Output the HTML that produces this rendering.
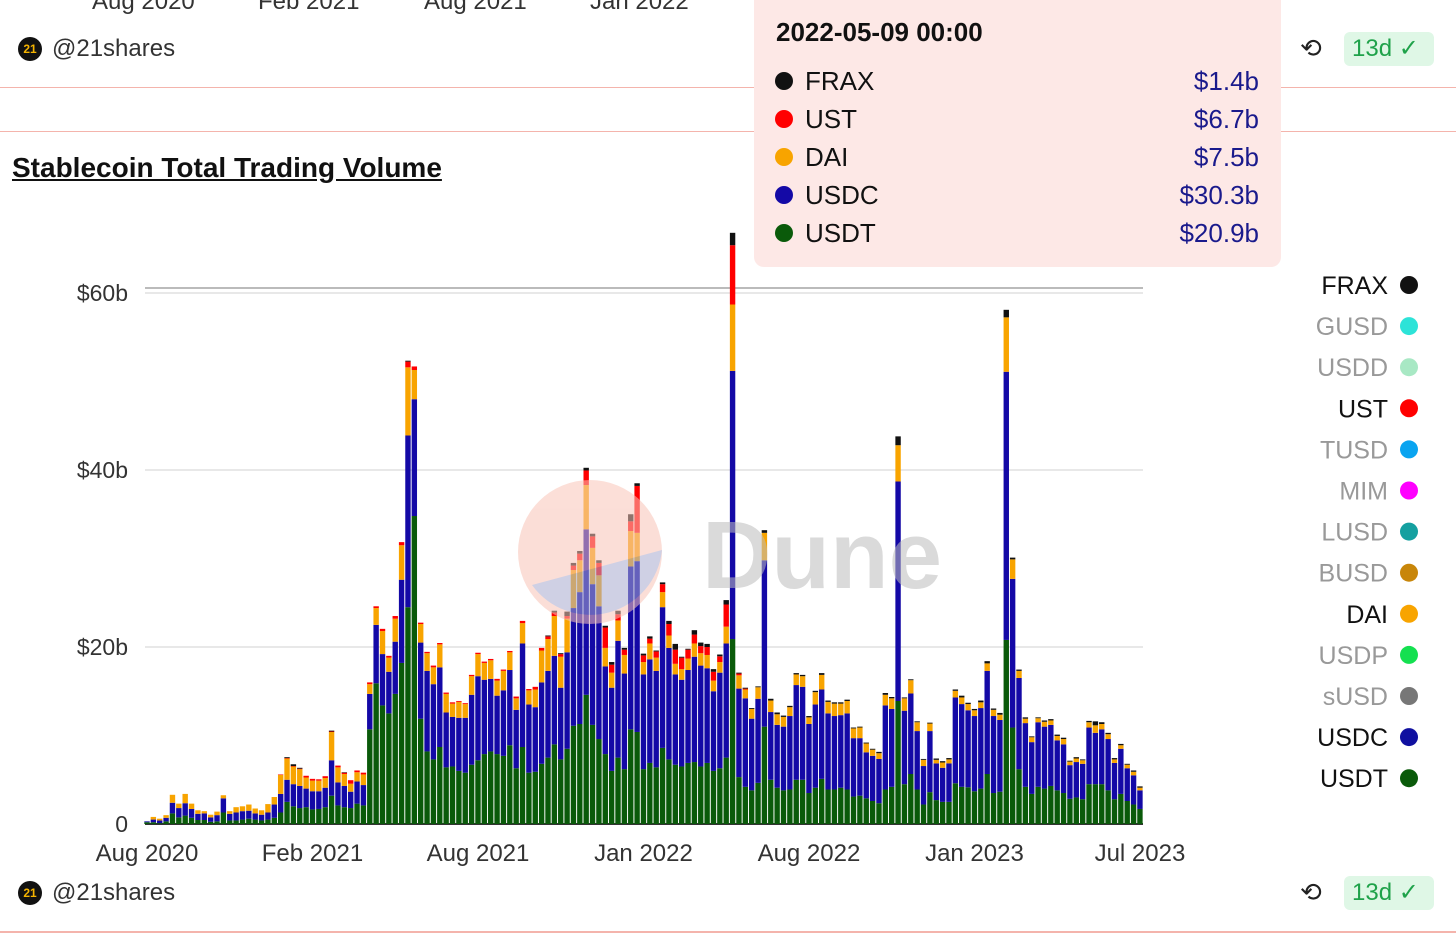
<!DOCTYPE html>
<html><head><meta charset="utf-8">
<style>
html,body{margin:0;padding:0;background:#fff;}
body{width:1456px;height:939px;position:relative;overflow:hidden;font-family:"Liberation Sans",sans-serif;}
.abs{position:absolute;}
.lbl{font-size:24px;color:#333;}
.badge{position:absolute;width:90px;height:34px;border-radius:6px;background:#dff7e6;color:#1fa24a;font-size:24px;line-height:34px;padding-left:8px;box-sizing:border-box;}
</style></head>
<body>
<div class="abs" style="left:754px;top:0;width:527px;height:267px;background:#fde8e6;border-radius:0 0 10px 10px;font-size:26px;color:#111;">
<div class="abs" style="left:22px;top:17px;font-weight:bold;">2022-05-09 00:00</div>
</div>
<div class="abs" style="left:0;top:87px;width:754px;height:1px;background:#f4b4ac;"></div>
<div class="abs" style="left:1281px;top:87px;width:175px;height:1px;background:#f4b4ac;"></div>
<div class="abs" style="left:0;top:131px;width:754px;height:1px;background:#f4b4ac;"></div>
<div class="abs" style="left:1281px;top:131px;width:175px;height:1px;background:#f4b4ac;"></div>

<svg id="chart" class="abs" style="left:0;top:0" width="1456" height="939"></svg>

<div class="abs lbl" style="left:0;top:-12px;width:740px;height:30px;">
<span class="abs" style="left:92px">Aug 2020</span><span class="abs" style="left:258px">Feb 2021</span><span class="abs" style="left:424px">Aug 2021</span><span class="abs" style="left:590px">Jan 2022</span></div>
<div class="abs" style="left:18px;top:37px;width:24px;height:24px;border-radius:12px;background:#111;color:#f5b400;font-size:12px;font-weight:bold;text-align:center;line-height:24px;">21</div>
<div class="abs lbl" style="left:52px;top:35px;">@21shares</div>
<div class="abs" style="left:1300px;top:33px;font-size:26px;color:#222;">⟲</div>
<div class="badge" style="left:1344px;top:32px;">13d ✓</div>
<div class="abs" style="left:12px;top:152px;font-size:28px;font-weight:bold;text-decoration:underline;color:#111;">Stablecoin Total Trading Volume</div>

<div class="abs" style="left:18px;top:881px;width:24px;height:24px;border-radius:12px;background:#111;color:#f5b400;font-size:12px;font-weight:bold;text-align:center;line-height:24px;">21</div>
<div class="abs lbl" style="left:52px;top:879px;">@21shares</div>
<div class="abs" style="left:1300px;top:877px;font-size:26px;color:#222;">⟲</div>
<div class="badge" style="left:1344px;top:876px;">13d ✓</div>
<div class="abs" style="left:0;top:931px;width:1456px;height:2px;background:#f4b4ac;"></div>

<script>
const usdt=[.2,.2,.1,.3,1.2,.75,.95,.7,.45,.45,.25,.3,1.3,.4,.4,.5,.6,.5,.4,.5,.7,1.3,2.5,2.0,1.8,1.9,1.65,1.7,1.9,3.2,2.1,1.9,1.8,2.3,2.1,10.7,15.9,13.4,12.5,14.7,
18.2,24.5,34.8,11.9,8.2,7.3,8.7,6.4,6.5,6.0,5.8,6.7,7.2,7.9,8.2,7.9,7.7,8.9,6.3,8.7,5.8,5.9,6.8,7.5,9.0,7.3,8.5,11.1,11.3,14.6,11.2,9.6,7.9,6.0,7.5,6.2,10.7,10.4,6.2,6.9,
6.4,8.6,7.3,6.7,6.5,6.9,7.0,6.5,6.9,6.0,6.3,7.5,20.9,5.3,4.2,3.8,4.65,11.0,5.0,4.1,3.8,3.9,5.0,5.0,3.5,4.1,5.1,3.9,3.9,4.1,3.9,3.1,3.2,2.9,2.6,2.35,3.9,4.2,13.9,4.5,
5.65,3.9,2.2,3.6,2.7,2.5,2.5,4.6,4.2,4.15,3.7,4.0,5.65,3.5,3.65,20.8,10.9,6.2,4.2,3.4,4.2,4.0,4.3,3.8,3.5,2.85,3.0,2.8,4.5,4.5,4.5,3.8,2.8,3.4,2.6,2.2,1.7];
const usdc=[.1,.3,.3,.4,1.2,1.05,1.4,1.0,.7,.75,.5,.7,1.6,.75,.9,.95,.9,.7,.65,.8,1.5,2.1,2.5,2.5,2.5,2.1,2.05,2.0,2.2,4.0,2.6,2.4,1.85,2.5,2.3,4.0,6.6,5.8,4.7,5.9,
9.4,19.4,13.2,8.6,9.1,8.5,9.0,6.2,5.6,6.0,6.2,7.9,9.5,8.4,8.2,6.6,7.4,8.5,6.6,11.7,7.7,7.3,9.2,9.8,10.0,8.1,10.9,13.3,14.9,18.7,15.9,15.0,9.9,9.4,13.2,10.8,18.4,19.3,10.7,11.7,
10.9,15.9,12.6,10.2,9.8,10.5,11.9,11.4,10.7,9.0,10.8,12.9,30.3,10.0,10.0,8.1,9.5,18.8,7.65,7.1,7.2,8.3,10.7,10.5,7.8,9.4,10.1,8.6,8.3,8.2,8.6,6.6,6.5,5.2,5.1,5.0,9.5,8.8,24.8,8.3,
9.1,6.6,4.35,6.9,4.15,3.85,4.35,9.7,9.35,8.7,8.5,9.1,11.65,8.7,8.1,30.3,16.8,10.3,7.2,5.85,7.3,7.0,6.9,5.65,5.5,3.8,4.0,4.0,6.4,5.8,6.2,5.8,4.1,5.1,3.7,3.3,2.1];
const dai=[0,.3,.2,.3,.9,.5,1.05,.6,.4,.25,.3,.4,.35,.3,.6,.55,.7,.55,.5,.95,.85,2.15,2.4,2.0,1.9,1.25,1.2,1.2,1.1,3.2,1.7,1.35,.9,1.05,1.2,1.1,1.9,2.6,1.6,2.6,
3.9,7.7,3.3,2.1,2.0,1.9,2.6,2.1,1.5,1.8,1.55,2.1,2.5,1.9,2.1,1.7,2.2,2.0,1.3,2.3,1.6,2.0,3.6,3.6,4.5,3.5,3.8,4.3,3.6,5.0,4.1,3.5,2.1,1.7,2.3,2.1,4.0,3.2,1.4,1.8,
1.5,1.7,1.4,1.2,1.2,1.3,1.5,1.4,1.5,1.2,1.2,1.9,7.5,1.5,1.0,1.1,1.3,3.1,1.3,1.2,1.1,1.0,1.2,1.2,.75,1.4,1.65,1.3,1.4,1.3,1.4,1.1,1.2,1.0,.7,.65,1.2,1.2,4.1,1.4,
1.5,1.0,.7,.85,.4,.6,.45,.75,.75,.7,.65,.65,.85,.7,.6,6.15,2.2,.8,.5,.55,.45,.55,.5,.5,.6,.4,.4,.4,.6,.85,.6,.55,.4,.4,.4,.4,.3];
const ust=[0,0,0,0,0,0,0,0,0,0,0,0,0,0,0,0,0,0,0,0,0,.05,.05,.05,.05,.2,.2,.15,.2,.05,.2,.15,.4,.2,.2,.2,.2,.25,.2,.3,
.35,.65,.4,.15,.15,.2,.15,.15,.15,.1,.1,.15,.15,.15,.15,.2,.15,.15,.2,.25,.15,.3,.3,.3,.4,.3,.3,.5,.75,1.65,1.3,1.4,2.3,.9,.7,.6,1.1,5.3,.75,.55,
.7,.9,1.3,1.6,1.3,1.0,1.0,.8,.9,1.0,.65,2.5,6.7,.2,.1,0,0,0,0,0,0,0,0,0,0,0,0,0,0,0,0,0,0,0,0,0,0,0,0,0,
0,0,0,0,0,0,0,0,0,0,0,0,0,0,0,0,0,0,0,0,0,0,0,0,0,0,0,0,0,0,0,0,0,0,0,0,0];
const frax=[0,0,0,0,0,0,0,0,0,0,0,0,0,0,0,0,0,0,0,0,0,0,.1,.2,.1,0,0,0,0,.1,0,.05,0,0,0,0,0,0,0,0,
0,.1,0,0,0,0,0,0,0,0,0,0,0,0,0,0,0,0,0,0,0,0,0,.1,.2,.1,.5,.3,.3,.3,.3,.3,.2,.3,.4,.2,.8,.3,.2,.25,
.1,.2,.35,.65,.1,.1,.5,.4,.35,.3,.2,.5,1.4,.1,.1,.1,.1,.3,.2,.2,.15,.15,.15,.15,.15,.15,.2,.15,.15,.15,.15,.1,.1,.1,.1,.15,.2,.15,1.0,.1,
.1,.1,.1,.1,.15,.15,.15,.15,.2,.15,.15,.2,.25,.15,.2,.85,.2,.15,.15,.1,.1,.15,.15,.15,.15,.1,.15,.1,.15,.45,.2,.15,.15,.15,.1,.15,.15];
const yTicks=[0,20,40,60];
const yTickLabels=["0","$20b","$40b","$60b"];
const xTickIdx=[0,26,52,78,104,130,156];
const xTickLabels=["Aug 2020","Feb 2021","Aug 2021","Jan 2022","Aug 2022","Jan 2023","Jul 2023"];
const tipNames=["FRAX","UST","DAI","USDC","USDT"];
const tipVals=["$1.4b","$6.7b","$7.5b","$30.3b","$20.9b"];
const tipColors=["#111","#f00","#f8a400","#1409a6","#0a5a0a"];
const legNames=["FRAX","GUSD","USDD","UST","TUSD","MIM","LUSD","BUSD","DAI","USDP","sUSD","USDC","USDT"];
const legColors=["#111","#2de3d8","#a8e8c4","#f00","#0aa4f0","#f0f","#14a0a0","#c8860a","#f8a400","#14e050","#777","#1010a0","#0a5a0a"];
const legActive=[1,0,0,1,0,0,0,0,1,0,0,1,1];

const NS="http://www.w3.org/2000/svg";
const svg=document.getElementById('chart');
function el(t,a,p){const e=document.createElementNS(NS,t);for(const k in a)e.setAttribute(k,a[k]);(p||svg).appendChild(e);return e;}
const y0=824,pxPerB=8.85;
function yScale(v){return y0-v*pxPerB;}
const x0=147,step=6.365;
function xScale(i){return x0+i*step;}

yTicks.forEach((t,i)=>{
  const g=el('line',{x1:145,x2:1143,y1:yScale(t),y2:yScale(t),stroke:i===0?'#333':'#e8e8e8','stroke-width':2});
  
  
  const tx=el('text',{x:128,y:yScale(t)+8,'text-anchor':'end','font-size':23,fill:'#333','font-family':'Liberation Sans, sans-serif'});
  tx.textContent=yTickLabels[i];
  
  
});
const hl=el('line',{x1:145,x2:1143,y1:288,y2:288,stroke:'#bbb','stroke-width':2});



const series=[[usdt,'#0a5a0a','usdt'],[usdc,'#1409a6','usdc'],[dai,'#f8a400','dai'],[ust,'#f00','ust'],[frax,'#111','frax']];
for(let i=0;i<usdt.length;i++){
  let cum=0;
  series.forEach(s=>{
    const v=s[0][i];if(!v)return;
    const yt=yScale(cum+v),yb=yScale(cum);
    const r=el('rect',{x:xScale(i)-2.7,y:yt,width:5.4,height:Math.max(yb-yt,0.5),fill:s[1]});
    
    
    cum+=v;
  });
}
xTickIdx.forEach((ix,i)=>{
  const t=el('text',{x:xScale(ix),y:861,'text-anchor':'middle','font-size':24,fill:'#333','font-family':'Liberation Sans, sans-serif'});
  t.textContent=xTickLabels[i];
  
  
});
const wm=el('g',{opacity:0.55});


el('circle',{cx:590,cy:552,r:72,fill:'#f9c4b8'},wm);
el('path',{d:'M532,585 L662,550 A72,72 0 0 1 532,585 Z',fill:'#a8aacf'},wm);
const dt=el('text',{x:702,y:588,'font-size':96,'font-weight':'bold',fill:'#bdbdbd','font-family':'Liberation Sans, sans-serif'},wm);
dt.textContent='Dune';
tipNames.forEach((n,i)=>{
  const y=81+i*38;
  const c=el('circle',{cx:784,cy:y,r:9,fill:tipColors[i]});
  
  
  const t=el('text',{x:805,y:y+9,'font-size':26,fill:'#111','font-family':'Liberation Sans, sans-serif'});
  t.textContent=n;
  
  
  const v=el('text',{x:1259,y:y+9,'text-anchor':'end','font-size':26,fill:'#1a1a8c','font-family':'Liberation Sans, sans-serif'});
  v.textContent=tipVals[i];
  
  
});
legNames.forEach((n,i)=>{
  const y=285+i*41.1;
  const t=el('text',{x:1388,y:y+9,'text-anchor':'end','font-size':25,fill:legActive[i]?'#111':'#999','font-family':'Liberation Sans, sans-serif'});
  t.textContent=n;
  
  
  const c=el('circle',{cx:1409,cy:y,r:9,fill:legColors[i]});
  
  
});
</script>
</body></html>
